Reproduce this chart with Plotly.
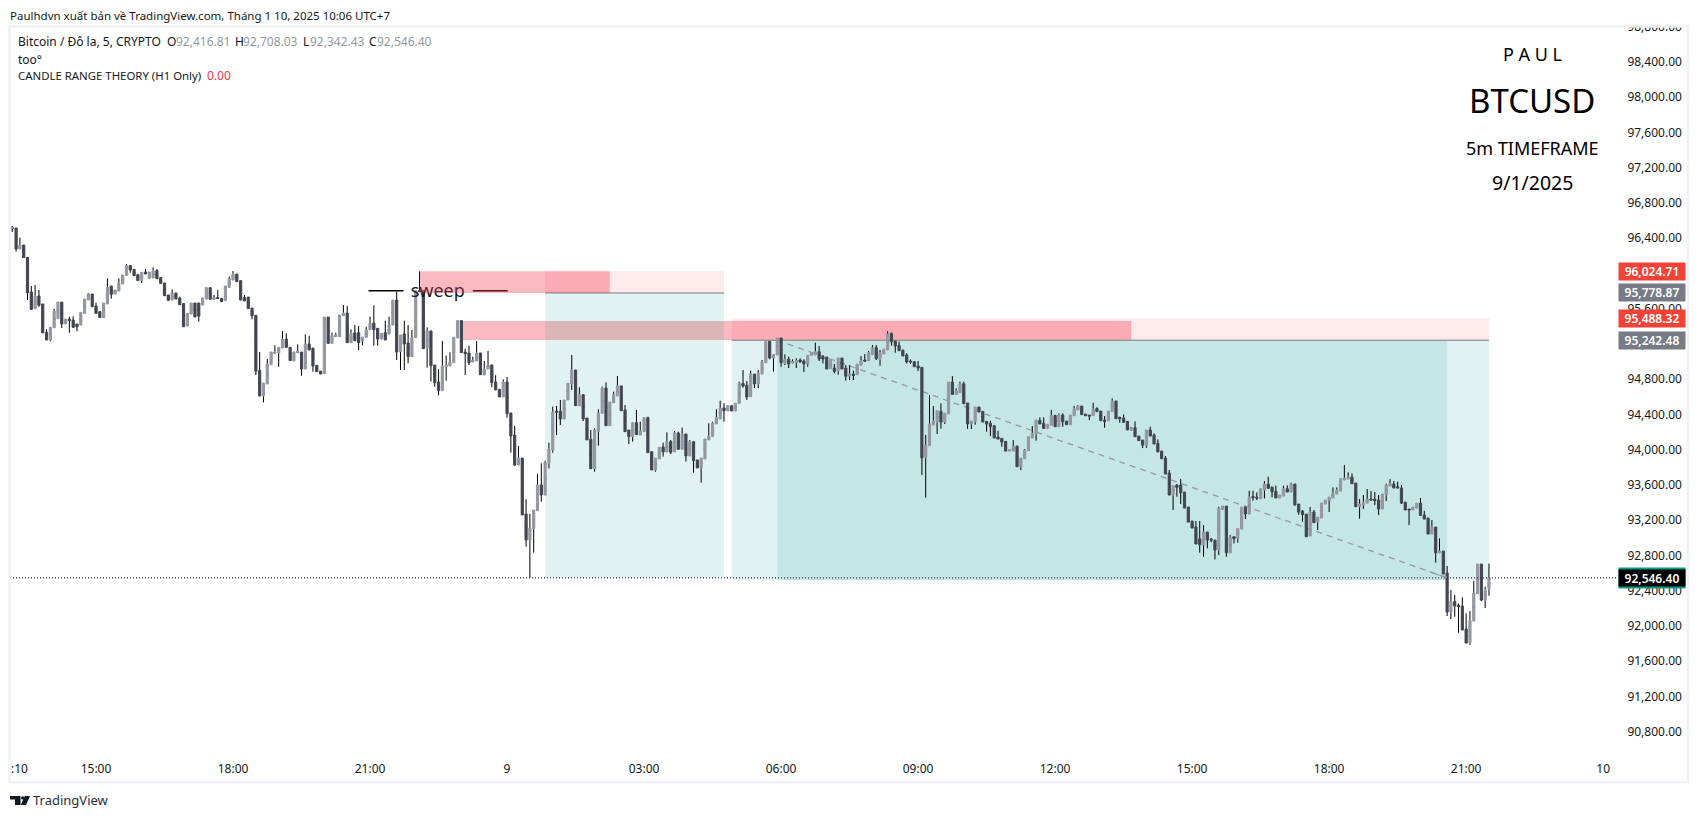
import pandas as pd
import plotly.graph_objects as go

opens = [
96512,96516,96278,96323,96183,95790,95601,95744,95654,95332,
95245,95385,95487,95676,95427,95483,95472,95427,95415,95548,
95699,95767,95631,95567,95499,95654,95858,95767,95801,95881,
95979,96089,96047,95987,95922,96017,95945,95949,96032,95953,
95892,95756,95699,95779,95722,95658,95404,95540,95665,95665,
95642,95710,95839,95707,95726,95718,95692,95843,95926,95994,
95919,95729,95733,95608,95525,94901,94610,94746,94965,95094,
95101,95154,95256,95162,95007,95101,95109,94916,95200,95154,
94958,94893,94863,95506,95207,95283,95283,95521,95552,95215,
95328,95328,95234,95275,95362,95438,95378,95256,95328,95313,
95415,95699,95113,95314,95212,95056,95272,95805,95805,95155,
95348,94962,94769,94671,94943,94950,94988,95268,95465,95109,
95098,94996,95007,95098,94848,94916,94962,94769,94686,94599,
94769,94417,94167,93827,93906,93271,92976,93105,93309,93600,
93486,93846,93997,94436,94436,94349,94565,94746,94905,94497,
94625,94360,94118,93785,94205,94413,94701,94273,94534,94610,
94724,94451,94224,94149,94307,94167,94205,94364,93978,93770,
93895,94031,93975,94092,93975,94190,94005,94179,93929,94092,
93884,93793,93895,94111,94149,94292,94349,94474,94440,94500,
94440,94527,94753,94731,94602,94859,94746,94859,94988,95230,
95041,95075,95268,94980,95029,94988,94988,95018,95007,94973,
95071,95075,95113,95056,95052,94920,94927,94897,95041,94927,
94836,94859,94852,94958,95018,95010,95079,95158,95026,95086,
95132,95321,95234,95184,95132,95075,95007,94999,94950,94935,
93910,94046,94280,94318,94435,94314,94405,94768,94628,94647,
94749,94530,94292,94318,94485,94435,94322,94299,94273,94144,
94129,94095,93985,93985,94042,93807,93898,93989,94133,94178,
94333,94299,94242,94277,94390,94261,94394,94326,94284,94386,
94451,94496,94405,94394,94386,94470,94439,94337,94330,94432,
94553,94367,94360,94322,94231,94250,94155,94110,94050,94224,
94167,94072,93985,93906,93736,93486,93599,93599,93520,93350,
93191,93123,92988,92918,93066,92987,92975,92862,93323,93361,
92831,93013,92990,93100,93350,93270,93467,93463,93444,93543,
93611,93577,93527,93452,93474,93558,93520,93611,93384,93304,
93270,93021,93293,93179,93225,93384,93422,93452,93497,93531,
93656,93667,93690,93622,93353,93372,93395,93440,93440,93429,
93327,93486,93588,93611,93580,93565,93406,93327,93316,93338,
93395,93259,93225,93043,93123,92828,92850,92601,92158,92279,
92234,92226,91965,91806,92056,92366,92703,92294,92416.81,
]
highs = [
96539,96520,96407,96323,96183,95858,95869,95813,95654,95366,
95389,95601,95676,95676,95483,95510,95514,95427,95559,95710,
95779,95767,95669,95567,95665,95945,95858,95813,95945,95983,
96108,96096,96047,95987,96013,96051,96017,96070,96051,95953,
95892,95756,95820,95779,95737,95658,95548,95665,95665,95665,
95722,95839,95839,95756,95813,95718,95858,95964,96028,95994,
95919,95756,95733,95608,95525,95109,94757,95029,95109,95185,
95162,95347,95321,95162,95109,95196,95109,95309,95294,95154,
94958,94893,95506,95506,95328,95328,95529,95642,95631,95366,
95415,95404,95279,95396,95510,95639,95378,95321,95465,95510,
95699,95794,95302,95465,95416,95359,95805,96024.71,95805,95389,
95348,94962,94913,95234,95068,95106,95276,95465,95465,95147,
95181,95056,95234,95098,95007,95121,94962,94845,94686,94799,
94826,94417,94270,94043,93906,93437,93271,93316,93725,93846,
93876,94080,94489,94497,94565,94565,94754,95075,94905,94708,
94625,94360,94224,94243,94459,94716,94765,94542,94659,94837,
94724,94508,94224,94307,94451,94319,94364,94375,93978,93906,
94027,94080,94198,94111,94213,94205,94251,94179,94111,94092,
93884,93906,94122,94300,94319,94459,94557,94527,94500,94500,
94527,94773,94905,94780,94897,94859,94905,95018,95230,95230,
95082,95268,95268,95082,95056,95026,95037,95037,95026,95071,
95105,95215,95177,95075,95052,95018,94973,95041,95041,94961,
94961,94897,94973,95063,95086,95120,95188,95188,95132,95143,
95343,95328,95234,95226,95132,95094,95026,94999,95007,94935,
94167,94621,94496,94443,94526,94417,94768,94836,94697,94772,
94772,94530,94326,94485,94485,94435,94322,94330,94273,94216,
94129,94095,94000,94110,94042,93906,94008,94148,94269,94337,
94367,94367,94288,94451,94390,94413,94413,94326,94394,94496,
94507,94496,94405,94394,94534,94481,94439,94382,94439,94583,
94553,94375,94401,94322,94254,94322,94155,94110,94224,94261,
94186,94118,93985,93929,93770,93592,93611,93667,93520,93350,
93191,93191,93191,93145,93066,93000,92975,93353,93361,93361,
93032,93013,93107,93350,93350,93535,93535,93516,93558,93645,
93694,93577,93592,93486,93592,93596,93626,93611,93384,93316,
93270,93350,93316,93236,93395,93429,93463,93573,93573,93671,
93826,93743,93732,93622,93440,93486,93554,93531,93520,93486,
93497,93614,93667,93645,93637,93599,93406,93327,93350,93395,
93452,93308,93225,93202,93123,92994,92850,92680,92408,92351,
92256,92324,92143,92169,92510,92703,92703,92446,92708.03,
]
lows = [
96471,96248,96278,96180,95699,95586,95601,95623,95321,95245,
95230,95385,95487,95381,95427,95328,95389,95343,95415,95548,
95699,95623,95548,95499,95499,95654,95714,95767,95801,95881,
95979,96009,95975,95919,95892,95994,95945,95949,95941,95888,
95748,95688,95699,95710,95646,95396,95404,95540,95506,95453,
95642,95710,95707,95707,95718,95680,95692,95843,95926,95907,
95699,95688,95601,95480,94848,94610,94538,94746,94965,95094,
94942,95154,95162,95011,95007,95101,94840,94916,95132,94886,
94886,94859,94863,95207,95207,95283,95283,95521,95215,95215,
95238,95132,95185,95275,95362,95181,95181,95256,95245,95313,
95415,95018,94905,94905,94981,95056,95272,95795,95147,94932,
94773,94716,94618,94671,94784,94950,94988,95268,95102,94848,
94962,94996,95007,94852,94848,94916,94708,94678,94599,94599,
94364,93967,93816,93827,93260,92900,92546.4,92832,93309,93411,
93486,93789,93967,94167,94281,94349,94565,94678,94500,94497,
94326,94111,93785,93751,94046,94413,94273,94273,94534,94610,
94443,94205,94065,94092,94171,94167,94205,93967,93770,93751,
93895,93922,93975,93952,93975,94005,94005,93865,93929,93740,
93793,93626,93895,94111,94149,94292,94349,94319,94440,94440,
94440,94527,94704,94564,94602,94700,94700,94859,94988,95026,
94886,95075,94942,94961,94927,94980,94927,94990,94882,94942,
95071,95075,95007,94980,94916,94920,94867,94852,94916,94784,
94791,94791,94852,94958,94995,95010,95079,95018,94954,95086,
95132,95181,95101,95124,95063,94980,94973,94942,94893,93713,
93456,94046,94280,94178,94239,94292,94405,94628,94628,94647,
94522,94235,94235,94284,94428,94314,94205,94155,94133,94121,
94034,93985,93985,93985,93807,93770,93898,93989,94133,94103,
94292,94242,94242,94277,94261,94261,94261,94284,94284,94386,
94451,94398,94386,94337,94386,94432,94330,94250,94330,94432,
94352,94307,94311,94224,94216,94148,94103,94019,94023,94155,
94065,93974,93898,93724,93486,93316,93467,93384,93338,93179,
93111,92930,92831,92786,92881,92950,92756,92805,93323,92786,
92831,92937,92945,93100,93213,93270,93422,93429,93444,93448,
93562,93459,93452,93452,93474,93520,93520,93372,93263,93183,
93013,93021,93172,93089,93225,93384,93293,93452,93497,93531,
93656,93667,93614,93353,93217,93327,93395,93429,93372,93259,
93327,93418,93588,93565,93565,93384,93316,93145,93316,93338,
93255,93213,93043,93043,92718,92828,92589,92113,92079,92105,
91923,91954,91806,91784,92056,92366,92283,92203,92342.43,
]
closes = [
96520,96278,96323,96180,95782,95593,95744,95639,95328,95245,
95389,95574,95676,95427,95483,95465,95389,95396,95559,95710,
95771,95623,95548,95499,95665,95843,95763,95813,95888,95983,
96089,96040,95975,95919,96013,95994,96017,96032,95941,95888,
95748,95695,95779,95710,95646,95396,95548,95665,95506,95516,
95722,95839,95707,95726,95718,95680,95858,95941,95994,95907,
95699,95688,95601,95521,94893,94610,94757,94973,95109,95109,
95162,95256,95162,95011,95109,95117,94916,95200,95132,94950,
94886,94859,95506,95207,95294,95302,95529,95552,95215,95325,
95238,95215,95279,95359,95438,95362,95256,95321,95245,95415,
95699,95109,95302,95200,95056,95276,95805,95795,95147,95348,
94954,94761,94671,94950,94962,94996,95276,95465,95102,95090,
94988,95015,95098,94852,94916,94962,94761,94678,94599,94769,
94410,94156,93827,93906,93260,92976,93112,93316,93600,93486,
93853,94008,94428,94428,94349,94565,94754,94905,94500,94625,
94349,94111,93785,94224,94413,94701,94273,94542,94625,94724,
94443,94205,94149,94307,94171,94213,94364,93967,93770,93906,
94027,93975,94088,93971,94194,94005,94179,93929,94092,93876,
93793,93906,94122,94156,94304,94364,94474,94443,94500,94440,
94527,94754,94723,94598,94859,94746,94867,94995,95230,95041,
95082,95268,94988,95026,94973,95000,95014,94995,94973,95071,
95105,95113,95029,95029,94916,95018,94889,95041,94916,94833,
94859,94844,94973,95010,95007,95101,95158,95033,95101,95143,
95313,95226,95177,95124,95063,94995,94995,94942,94927,93910,
94053,94292,94326,94443,94314,94417,94768,94628,94666,94749,
94522,94292,94326,94485,94428,94314,94292,94261,94133,94121,
94087,93985,94000,94042,93807,93906,93997,94148,94186,94337,
94292,94242,94288,94390,94261,94394,94318,94284,94394,94466,
94496,94398,94386,94382,94462,94432,94330,94322,94439,94553,
94352,94352,94311,94224,94254,94148,94103,94053,94224,94155,
94065,93974,93898,93724,93486,93592,93573,93512,93338,93179,
93111,92930,92922,93066,92975,92975,92862,93335,93361,92831,
93009,92990,93107,93350,93270,93463,93456,93452,93558,93611,
93562,93520,93452,93486,93558,93520,93611,93372,93293,93263,
93013,93293,93172,93236,93395,93429,93463,93505,93543,93671,
93679,93690,93614,93353,93384,93406,93440,93429,93422,93327,
93497,93599,93614,93565,93565,93395,93316,93316,93350,93395,
93255,93213,93043,93123,92831,92850,92589,92158,92279,92226,
92219,91954,91806,92063,92374,92703,92294,92408,92546.40,
]
price_ticks = [98800, 98400, 98000, 97600, 97200, 96800, 96400, 96000, 95600, 95200, 94800,
               94400, 94000, 93600, 93200, 92800, 92400, 92000, 91600, 91200, 90800]
time_tick_vals = ["2025-01-08 15:00", "2025-01-08 18:00", "2025-01-08 21:00", "2025-01-09 00:00",
                  "2025-01-09 03:00", "2025-01-09 06:00", "2025-01-09 09:00", "2025-01-09 12:00",
                  "2025-01-09 15:00", "2025-01-09 18:00", "2025-01-09 21:00", "2025-01-10 00:00"]
time_tick_text = ["15:00", "18:00", "21:00", "9", "03:00", "06:00", "09:00", "12:00", "15:00", "18:00", "21:00", "10"]

W, H = 1699, 818
L, R, T, B = 10, 1618, 26, 755
FONT = "Noto Sans"
INK = "#131722"
FRAME = "#f0f0f6"
TEAL = "rgba(0,150,136,0.12)"
RED_PALE = "rgba(242,54,69,0.11)"
RED_PINK = "rgba(242,54,69,0.34)"

def px(x):
    return (x - L) / (R - L)

def py(y):
    return (B - y) / (B - T)

times = pd.date_range("2025-01-08 13:10", periods=len(opens), freq="5min")
body_hi = [max(o, c) for o, c in zip(opens, closes)]
body_lo = [min(o, c) for o, c in zip(opens, closes)]
body_mid = [(o + c) / 2 for o, c in zip(opens, closes)]

fig = go.Figure()
# wicks only: the body of this trace collapses to a hairline hidden behind the body trace
fig.add_trace(go.Candlestick(
    x=times, open=body_mid, high=highs, low=lows, close=body_mid, whiskerwidth=0, hoverinfo="skip", showlegend=False,
    increasing=dict(line=dict(color="#000000", width=1), fillcolor="#000000"),
    decreasing=dict(line=dict(color="#000000", width=1), fillcolor="#000000"),
))
fig.add_trace(go.Candlestick(
    x=times, open=opens, high=body_hi, low=body_lo, close=closes, whiskerwidth=0, hoverinfo="skip", showlegend=False,
    increasing=dict(line=dict(color="#9598a1", width=1), fillcolor="#9598a1"),
    decreasing=dict(line=dict(color="#434651", width=1), fillcolor="#434651"),
))
fig.add_trace(go.Scatter(
    x=["2025-01-08 22:29"], y=[95790], mode="text", text=["sweep"], hoverinfo="skip", showlegend=False,
    textfont=dict(family=FONT, size=18, color=INK),
))

def box(x0, x1, y0, y1, color, layer="below"):
    return dict(type="rect", xref="x", yref="y", x0=x0, x1=x1, y0=y0, y1=y1, fillcolor=color,
                line=dict(width=0), layer=layer)

def seg(x0, x1, y0, y1, color, width=1, dash="solid", layer="below"):
    return dict(type="line", xref="x", yref="y", x0=x0, x1=x1, y0=y0, y1=y1,
                line=dict(color=color, width=width, dash=dash), layer=layer)

D8, D9 = "2025-01-08 ", "2025-01-09 "
shapes = [
    box(D8 + "23:02", D9 + "13:40", 95461, 95245, RED_PINK),
    box(D9 + "00:50", D9 + "04:45", 96024.71, 95778.87, RED_PALE),
    box(D9 + "00:50", D9 + "04:45", 95778.87, 92546.4, TEAL),
    box(D9 + "04:55", D9 + "21:30", 95488.32, 95242.48, RED_PALE),
    box(D9 + "04:55", D9 + "21:30", 95242.48, 92520, TEAL),
    box(D9 + "05:55", D9 + "20:35", 95242.48, 92520, TEAL),
    seg(D9 + "00:50", D9 + "04:45", 95778.87, 95778.87, "#787b86"),
    seg(D9 + "04:55", D9 + "21:30", 95242.48, 95242.48, "#787b86"),
    seg(D9 + "05:55", D9 + "20:35", 95242.48, 92546.4, "#9598a1", width=1.3, dash="6px,5px"),
    seg(D8 + "20:58", D8 + "21:44", 95805, 95805, "#000000", width=1.5),
    seg(D8 + "23:15", D9 + "00:01", 95805, 95805, "#000000", width=1.5),
    box(D8 + "22:05", D9 + "02:15", 96024.71, 95778.87, RED_PINK, layer="above"),
    dict(type="line", xref="paper", yref="y", x0=0, x1=1, y0=92546.4, y1=92546.4, layer="above",
         line=dict(color="#131722", width=1, dash="1px,2px")),
    # clipped top of the price scale, then the panel frame
    dict(type="rect", xref="paper", yref="paper", x0=px(1620), x1=px(1686), y0=py(26), y1=py(10),
         fillcolor="white", line=dict(width=0), layer="above"),
    dict(type="rect", xref="paper", yref="paper", x0=px(9.5), x1=px(1688), y0=py(782), y1=py(26.5),
         fillcolor="rgba(0,0,0,0)", line=dict(color=FRAME, width=2.5), layer="above"),
    # TradingView logo
    dict(type="path", xref="paper", yref="paper", layer="above", fillcolor=INK, line=dict(width=0),
         path=f"M {px(10)} {py(796)} L {px(20.5)} {py(796)} L {px(20.5)} {py(805)} L {px(15)} {py(805)} "
              f"L {px(15)} {py(799.6)} L {px(10)} {py(799.6)} Z"),
    dict(type="circle", xref="paper", yref="paper", layer="above", fillcolor=INK, line=dict(width=0),
         x0=px(21), x1=px(24.4), y0=py(799.6), y1=py(796.2)),
    dict(type="path", xref="paper", yref="paper", layer="above", fillcolor=INK, line=dict(width=0),
         path=f"M {px(24.8)} {py(796)} L {px(30)} {py(796)} L {px(26)} {py(805)} L {px(20.8)} {py(805)} Z"),
]

def label(text, x, y, size=12, color=INK, anchor="left"):
    return dict(text=text, xref="paper", yref="paper", x=px(x), y=py(y), xanchor=anchor, yanchor="middle",
                showarrow=False, font=dict(family=FONT, size=size, color=color), borderpad=0, borderwidth=0)

def price_tag(text, value, color, height=17):
    return dict(text=text, xref="paper", yref="y", x=px(1618), y=value, xanchor="left", yanchor="middle",
                showarrow=False, bgcolor=color, width=66, height=height, align="center", borderpad=0,
                font=dict(family=FONT, size=12, color="white", weight=600))

GREY = "#9598a1"
annotations = [
    label("Paulhdvn xuất bản về TradingView.com, Tháng 1 10, 2025 10:06 UTC+7", 10, 15, size=11.5),
    label("Bitcoin / Đô la, 5, CRYPTO", 18, 42, size=12),
    label("O", 167, 42, size=12), label("92,416.81", 176, 42, size=12, color=GREY),
    label("H", 235, 42, size=12), label("92,708.03", 243, 42, size=12, color=GREY),
    label("L", 303, 42, size=12), label("92,342.43", 310, 42, size=12, color=GREY),
    label("C", 369, 42, size=12), label("92,546.40", 377, 42, size=12, color=GREY),
    label("too°", 18, 59, size=12),
    label("CANDLE RANGE THEORY (H1 Only)", 18, 76, size=11.4),
    label("0.00", 207, 76, size=12, color="#f23645"),
    label("P A U L", 1532, 54, size=18, color="#000000", anchor="center"),
    label("BTCUSD", 1532, 100, size=33, color="#000000", anchor="center"),
    label("5m TIMEFRAME", 1532, 148, size=18, color="#000000", anchor="center"),
    label("9/1/2025", 1532, 182, size=19.5, color="#000000", anchor="center"),
    label(":10", 11, 768, size=12),
    label("TradingView", 33, 800, size=13, color="#2a2e39"),
    price_tag("96,024.71", 96024.71, "#f44336"),
    price_tag("95,778.87", 95778.87, "#787b86"),
    price_tag("95,488.32", 95488.32, "#f44336"),
    price_tag("95,242.48", 95242.48, "#787b86"),
    price_tag("", 92546.4, "#089981", height=20),
    price_tag("92,546.40", 92546.4, "#000000", height=16),
    dict(x=D9 + "20:35", y=92546.4, ax=D9 + "20:10", ay=92620, xref="x", yref="y", axref="x", ayref="y",
         text="", showarrow=True, arrowhead=4, arrowsize=1, arrowwidth=1, arrowcolor="#9598a1"),
]

fig.update_layout(
    width=W, height=H, autosize=False, paper_bgcolor="white", plot_bgcolor="white",
    margin=dict(l=L, r=W - R, t=T, b=H - B, pad=0), showlegend=False, shapes=shapes, annotations=annotations,
    font=dict(family=FONT, size=12, color=INK), boxgap=0.18,
    xaxis=dict(type="date", range=["2025-01-08 13:07", "2025-01-10 00:19:30"], rangeslider=dict(visible=False),
               showgrid=False, zeroline=False, showline=False, tickmode="array",
               tickvals=time_tick_vals, ticktext=time_tick_text, ticks="outside", ticklen=3,
               tickcolor="rgba(0,0,0,0)", tickfont=dict(family=FONT, size=12, color=INK)),
    yaxis=dict(side="right", range=[90536, 98808.5], showgrid=False, zeroline=False, showline=False,
               tickmode="array", tickvals=price_ticks, tickformat=",.2f", ticks="outside", ticklen=6,
               tickcolor="rgba(0,0,0,0)", tickfont=dict(family=FONT, size=12, color=INK)),
)
assert len(opens) == len(highs) == len(lows) == len(closes) == 389
fig.write_html("out.html", config={"displayModeBar": False}, post_script="document.body.style.margin='0';")
